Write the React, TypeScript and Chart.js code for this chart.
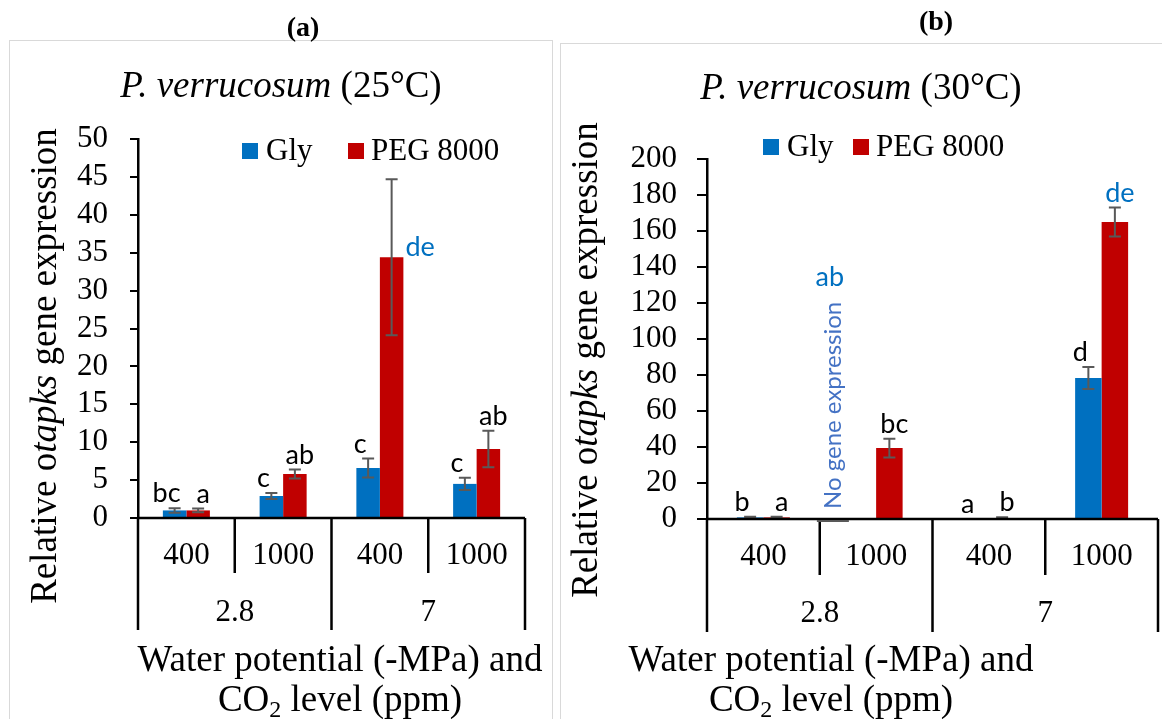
import React, { useEffect, useRef } from "react";
import { Chart, registerables } from "chart.js";
Chart.register(...registerables);

// ---------- data ----------
const co2Levels = ["400", "1000", "400", "1000"];
const waterPotentials = ["2.8", "7"];
const seriesNames = ["Gly", "PEG 8000"];

// (a) 25°C
const glyA = [1.0, 2.9, 6.6, 4.5];
const glyErrA = [0.3, 0.4, 1.25, 0.8];
const pegA = [1.0, 5.8, 34.4, 9.1];
const pegErrA = [0.25, 0.6, 10.3, 2.4];
const glyLettersA = ["bc", "c", "c", "c"];
const pegLettersA = ["a", "ab", "de", "ab"];
const glyBlueA = [false, false, false, false];
const pegBlueA = [false, false, true, false];

// (b) 30°C
const glyB = [0.9, 0, 0, 78.3];
const glyErrB = [0.3, 0, 0, 6.1];
const pegB = [0.9, 39.4, 0.5, 165];
const pegErrB = [0.3, 5.2, 0.5, 8.1];
const glyLettersB = ["b", "ab", "a", "d"];
const pegLettersB = ["a", "bc", "b", "de"];
const glyBlueB = [false, true, false, false];
const pegBlueB = [false, false, false, true];

const yTicksA = [0, 50, 5];
const yTicksB = [0, 200, 20];

const GLY_COLOR = "#0070C0";
const PEG_COLOR = "#C00000";
const SERIF = "'Liberation Serif', 'Times New Roman', serif";
const SANS = "Lato, 'Open Sans', sans-serif";

type Seg = { t: string; italic?: boolean; sub?: boolean; bold?: boolean };

function fontFor(s: Seg, size: number, family: string) {
  const sz = s.sub ? Math.round(size * 0.65) : size;
  return `${s.italic ? "italic " : ""}${s.bold ? "bold " : ""}${sz}px ${family}`;
}

function drawRich(ctx: CanvasRenderingContext2D, segs: Seg[], x: number, y: number, size: number, family: string) {
  ctx.textAlign = "left";
  ctx.textBaseline = "middle";
  let total = 0;
  const ws = segs.map((s) => {
    ctx.font = fontFor(s, size, family);
    const w = ctx.measureText(s.t).width;
    total += w;
    return w;
  });
  let cx = x - total / 2;
  segs.forEach((s, i) => {
    ctx.font = fontFor(s, size, family);
    ctx.fillText(s.t, cx, s.sub ? y + size * 0.25 : y);
    cx += ws[i];
  });
}

type PanelCfg = {
  canvasLeft: number;
  canvasWidth: number;
  chartLeft: number;
  chartRight: number;
  chartTop: number;
  chartBottom: number;
  tickLen: number;
  tickPad: number;
  yTicks: number[];
  catPct: number;
  gly: number[];
  glyErr: number[];
  peg: number[];
  pegErr: number[];
  glyLetters: string[];
  pegLetters: string[];
  glyBlue: boolean[];
  pegBlue: boolean[];
  panelLabel: string;
  panelLabelPos: [number, number];
  title: Seg[];
  titlePos: [number, number];
  legendPos: [number, number, number, number, number];
  yTitlePos: [number, number];
  xTitlePos: [number, number, number];
  innerLen: number;
  outerLen: number;
  letterRight?: number;
  noExpr?: number;
};

function makePlugin(cfg: PanelCfg) {
  return {
    id: "panelDeco",
    afterDatasetsDraw(chart: any) {
      const ctx: CanvasRenderingContext2D = chart.ctx;
      const off = cfg.canvasLeft;
      const xs = chart.scales.x;
      const ys = chart.scales.y;
      const area = chart.chartArea;
      const bottom = ys.getPixelForValue(0);
      ctx.save();
      // error bars
      const errs = [cfg.glyErr, cfg.pegErr];
      const vals = [cfg.gly, cfg.peg];
      ctx.strokeStyle = "#595959";
      ctx.lineWidth = 2;
      for (let d = 0; d < 2; d++) {
        const meta = chart.getDatasetMeta(d);
        meta.data.forEach((bar: any, j: number) => {
          const e = errs[d][j];
          if (!e) return;
          const v = vals[d][j];
          const yt = ys.getPixelForValue(v + e);
          const yb = ys.getPixelForValue(Math.max(v - e, 0));
          ctx.beginPath();
          ctx.moveTo(bar.x, yt);
          ctx.lineTo(bar.x, yb);
          ctx.moveTo(bar.x - 6, yt);
          ctx.lineTo(bar.x + 6, yt);
          ctx.moveTo(bar.x - 6, yb);
          ctx.lineTo(bar.x + 6, yb);
          ctx.stroke();
        });
      }
      // x axis & category dividers
      ctx.strokeStyle = "#000";
      ctx.lineWidth = 2.5;
      ctx.beginPath();
      ctx.moveTo(area.left, bottom);
      ctx.lineTo(area.right, bottom);
      const n = co2Levels.length;
      const w = (area.right - area.left) / n;
      for (let i = 0; i <= n; i++) {
        const x = i < n ? xs.getPixelForValue(i) - w / 2 : xs.getPixelForValue(n - 1) + w / 2;
        const outer = i % 2 === 0;
        ctx.moveTo(x, bottom);
        ctx.lineTo(x, bottom + (outer ? cfg.outerLen : cfg.innerLen));
      }
      ctx.stroke();
      ctx.fillStyle = "#000";
      ctx.textAlign = "center";
      ctx.textBaseline = "middle";
      ctx.font = `31px ${SERIF}`;
      co2Levels.forEach((l, i) => ctx.fillText(l, xs.getPixelForValue(i), bottom + 38));
      waterPotentials.forEach((l, g) => {
        const x = (xs.getPixelForValue(2 * g) + xs.getPixelForValue(2 * g + 1)) / 2;
        ctx.fillText(l, x, bottom + 95);
      });
      // letters
      const letters = [cfg.glyLetters, cfg.pegLetters];
      const blues = [cfg.glyBlue, cfg.pegBlue];
      const dx = [-8, 5];
      ctx.font = `27px ${SANS}`;
      for (let d = 0; d < 2; d++) {
        const meta = chart.getDatasetMeta(d);
        meta.data.forEach((bar: any, j: number) => {
          const txt = letters[d][j];
          ctx.fillStyle = blues[d][j] ? GLY_COLOR : "#000";
          const top = ys.getPixelForValue(vals[d][j] + errs[d][j]);
          if (d === 1 && cfg.letterRight === j) {
            ctx.textAlign = "left";
            ctx.textBaseline = "middle";
            ctx.fillText(txt, bar.x + bar.width / 2 + 2, ys.getPixelForValue(vals[d][j]) - 10);
          } else if (d === 0 && cfg.noExpr === j) {
            const x = bar.x - 30;
            // placeholder for the missing bar
            ctx.save();
            ctx.strokeStyle = "#595959";
            ctx.lineWidth = 2;
            ctx.beginPath();
            ctx.moveTo(x - 16, bottom + 2);
            ctx.lineTo(x + 16, bottom + 2);
            ctx.stroke();
            ctx.translate(x, bottom - 10);
            ctx.rotate(-Math.PI / 2);
            ctx.fillStyle = "#4472C4";
            ctx.font = `24px ${SANS}`;
            ctx.textAlign = "left";
            ctx.textBaseline = "middle";
            ctx.fillText("No gene expression", 0, 0);
            const len = ctx.measureText("No gene expression").width;
            ctx.restore();
            ctx.fillStyle = GLY_COLOR;
            ctx.font = `27px ${SANS}`;
            ctx.textAlign = "center";
            ctx.textBaseline = "middle";
            ctx.fillText(txt, x - 3, bottom - 10 - len - 24);
          } else {
            ctx.textAlign = "center";
            ctx.textBaseline = "bottom";
            ctx.fillText(txt, bar.x + dx[d], top - 1);
          }
        });
      }
      // panel label
      ctx.fillStyle = "#000";
      drawRich(ctx, [{ t: cfg.panelLabel, bold: true }], cfg.panelLabelPos[0] - off, cfg.panelLabelPos[1], 28, SERIF);
      // title
      drawRich(ctx, cfg.title, cfg.titlePos[0] - off, cfg.titlePos[1], 37, SERIF);
      // legend
      const [b1, t1, b2, t2, ly] = cfg.legendPos;
      const colors = [GLY_COLOR, PEG_COLOR];
      const bxs = [b1, b2];
      const txs = [t1, t2];
      chart.data.datasets.forEach((ds: any, i: number) => {
        ctx.fillStyle = colors[i];
        ctx.fillRect(bxs[i] - off, ly - 8, 16, 16);
        ctx.fillStyle = "#000";
        ctx.font = `31px ${SERIF}`;
        ctx.textAlign = "left";
        ctx.textBaseline = "middle";
        ctx.fillText(ds.label, txs[i] - off, ly + 1);
      });
      // y title
      ctx.save();
      ctx.translate(cfg.yTitlePos[0] - off, cfg.yTitlePos[1]);
      ctx.rotate(-Math.PI / 2);
      ctx.fillStyle = "#000";
      drawRich(ctx, [{ t: "Relative o" }, { t: "tapks", italic: true }, { t: " gene expression" }], 0, 0, 37, SERIF);
      ctx.restore();
      // x title
      ctx.fillStyle = "#000";
      drawRich(ctx, [{ t: "Water potential (-MPa) and" }], cfg.xTitlePos[0] - off, cfg.xTitlePos[1], 37, SERIF);
      drawRich(ctx, [{ t: "CO" }, { t: "2", sub: true }, { t: " level (ppm)" }], cfg.xTitlePos[0] - off, cfg.xTitlePos[2], 37, SERIF);
      ctx.restore();
    },
  };
}

const cfgA: PanelCfg = {
  canvasLeft: 0,
  canvasWidth: 556,
  chartLeft: 138,
  chartRight: 525,
  chartTop: 139,
  chartBottom: 518,
  tickLen: 8,
  tickPad: 22,
  yTicks: yTicksA,
  catPct: 0.486,
  gly: glyA,
  glyErr: glyErrA,
  peg: pegA,
  pegErr: pegErrA,
  glyLetters: glyLettersA,
  pegLetters: pegLettersA,
  glyBlue: glyBlueA,
  pegBlue: pegBlueA,
  panelLabel: "(a)",
  panelLabelPos: [303, 29],
  title: [{ t: "P. verrucosum", italic: true }, { t: " (25°C)" }],
  titlePos: [281, 87],
  legendPos: [242, 266, 348, 371, 151],
  yTitlePos: [46, 366],
  xTitlePos: [340, 661, 701],
  innerLen: 55,
  outerLen: 112,
  letterRight: 2,
};

const cfgB: PanelCfg = {
  canvasLeft: 556,
  canvasWidth: 606,
  chartLeft: 707,
  chartRight: 1158,
  chartTop: 159,
  chartBottom: 519,
  tickLen: 10,
  tickPad: 20,
  yTicks: yTicksB,
  catPct: 0.47,
  gly: glyB,
  glyErr: glyErrB,
  peg: pegB,
  pegErr: pegErrB,
  glyLetters: glyLettersB,
  pegLetters: pegLettersB,
  glyBlue: glyBlueB,
  pegBlue: pegBlueB,
  panelLabel: "(b)",
  panelLabelPos: [936, 23],
  title: [{ t: "P. verrucosum", italic: true }, { t: " (30°C)" }],
  titlePos: [861, 89],
  legendPos: [763, 787, 853, 876, 147],
  yTitlePos: [587, 360],
  xTitlePos: [831, 661, 701],
  innerLen: 56,
  outerLen: 113,
  noExpr: 1,
};

function Panel({ cfg }: { cfg: PanelCfg }) {
  const ref = useRef<HTMLCanvasElement>(null);
  useEffect(() => {
    if (!ref.current) return;
    const [ymin, ymax, ystep] = cfg.yTicks;
    const chart = new Chart(ref.current, {
      type: "bar",
      data: {
        labels: co2Levels,
        datasets: [
          { label: seriesNames[0], data: cfg.gly, backgroundColor: GLY_COLOR, borderWidth: 0 },
          { label: seriesNames[1], data: cfg.peg, backgroundColor: PEG_COLOR, borderWidth: 0 },
        ],
      },
      options: {
        responsive: false,
        animation: false,
        devicePixelRatio: 1,
        datasets: { bar: { categoryPercentage: cfg.catPct, barPercentage: 1 } },
        layout: {
          padding: {
            left: 0,
            right: cfg.canvasWidth - (cfg.chartRight - cfg.canvasLeft),
            top: cfg.chartTop,
            bottom: 719 - cfg.chartBottom,
          },
        },
        plugins: { legend: { display: false }, tooltip: { enabled: false }, title: { display: false } },
        scales: {
          x: { display: false, offset: true },
          y: {
            min: ymin,
            max: ymax,
            afterFit: (s: any) => {
              s.width = cfg.chartLeft - cfg.canvasLeft;
            },
            ticks: {
              stepSize: ystep,
              autoSkip: false,
              color: "#000",
              padding: cfg.tickPad,
              font: { family: SERIF, size: 31 },
            },
            grid: { drawOnChartArea: false, tickLength: cfg.tickLen, color: "#000", lineWidth: 2 },
            border: { display: true, color: "#000", width: 2.5 },
          },
        },
      } as any,
      plugins: [makePlugin(cfg)],
    });
    return () => chart.destroy();
  }, [cfg]);
  return (
    <canvas
      ref={ref}
      width={cfg.canvasWidth}
      height={719}
      style={{ position: "absolute", left: cfg.canvasLeft, top: 0, width: cfg.canvasWidth, height: 719 }}
    />
  );
}

export default function App() {
  return (
    <div style={{ position: "fixed", left: 0, top: 0, width: 1162, height: 719, overflow: "hidden", background: "#fff" }}>
      <div style={{ position: "absolute", left: 9, top: 40, width: 544, height: 720, border: "1.5px solid #d9d9d9", boxSizing: "border-box" }} />
      <div style={{ position: "absolute", left: 560, top: 43, width: 640, height: 720, border: "1.5px solid #d9d9d9", boxSizing: "border-box" }} />
      <Panel cfg={cfgA} />
      <Panel cfg={cfgB} />
    </div>
  );
}
